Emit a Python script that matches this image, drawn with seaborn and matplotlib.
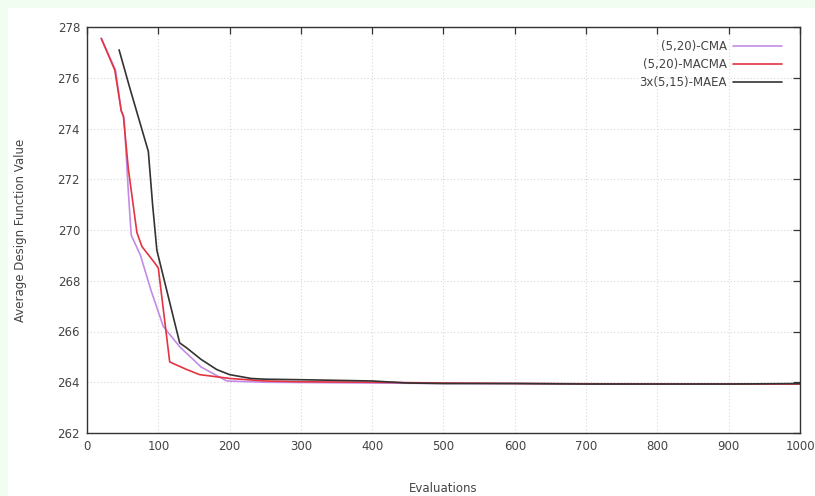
import numpy as np
import pandas as pd
import matplotlib
matplotlib.use("Agg")
import matplotlib.pyplot as plt
import seaborn as sns

# values
cma_x = [20, 40, 48, 52, 58, 62, 75, 90, 107, 130, 160, 196, 250, 300, 400, 500, 600, 700, 800, 900, 1000]
cma_y = [277.55, 276.3, 274.7, 274.4, 271.5, 269.8, 269.0, 267.6, 266.2, 265.4, 264.6, 264.05, 264.0,
         263.99, 263.97, 263.95, 263.95, 263.94, 263.94, 263.93, 263.93]

macma_x = [20, 39, 48, 51, 58, 70, 77, 95, 100, 116, 140, 158, 200, 250, 300, 400, 500, 600, 700, 800, 900, 1000]
macma_y = [277.55, 276.3, 274.7, 274.5, 272.4, 269.9, 269.35, 268.7, 268.5, 264.8, 264.5, 264.3, 264.15,
           264.05, 264.02, 264.0, 263.97, 263.95, 263.94, 263.93, 263.93, 263.93]

maea_x = [45, 60, 86, 92, 98, 130, 140, 160, 182, 200, 230, 250, 300, 400, 450, 500, 600, 700, 800, 900, 1000]
maea_y = [277.1, 275.6, 273.1, 271.0, 269.2, 265.55, 265.35, 264.9, 264.5, 264.3, 264.15, 264.12, 264.1,
          264.05, 263.97, 263.95, 263.95, 263.93, 263.93, 263.93, 263.95]

series_names = ["(5,20)-CMA", "(5,20)-MACMA", "3x(5,15)-MAEA"]
series_colors = ["#c48be6", "#e3343f", "#333333"]

x_ticks = [0, 100, 200, 300, 400, 500, 600, 700, 800, 900, 1000]
y_ticks = [262, 264, 266, 268, 270, 272, 274, 276, 278]

df = pd.concat([
    pd.DataFrame({"Evaluations": cma_x, "value": cma_y, "run": series_names[0]}),
    pd.DataFrame({"Evaluations": macma_x, "value": macma_y, "run": series_names[1]}),
    pd.DataFrame({"Evaluations": maea_x, "value": maea_y, "run": series_names[2]}),
])

sns.set_style("white")
plt.rcParams['font.family'] = ['DejaVu Sans']

fig = plt.figure(figsize=(8.15, 4.96), dpi=100, facecolor="white")
# light green frame strip along the top and left edge
fig.patches.append(plt.Rectangle((0, 0), 8 / 815, 1, transform=fig.transFigure,
                                 facecolor="#f0fdf0", edgecolor="none", zorder=-1))
fig.patches.append(plt.Rectangle((0, 1 - 8 / 496), 1, 8 / 496, transform=fig.transFigure,
                                 facecolor="#f0fdf0", edgecolor="none", zorder=-1))

ax = fig.add_axes([87 / 815, 1 - 433 / 496, (800 - 87) / 815, (433 - 27) / 496])

sns.lineplot(data=df, x="Evaluations", y="value", hue="run", hue_order=series_names,
             palette=series_colors, linewidth=1.2, ax=ax, sort=False, estimator=None)

ax.set_xlim(0, 1000)
ax.set_ylim(262, 278)
ax.set_xticks(x_ticks)
ax.set_yticks(y_ticks)
ax.grid(True, color="#d8d8d8", linestyle=(0, (1, 2)), linewidth=0.8)
ax.tick_params(direction="in", length=5, width=0.9, top=True, right=True,
               labelsize=8.5, labelcolor="#444444", color="#333333", pad=5)
for s in ax.spines.values():
    s.set_color("#333333")
    s.set_linewidth(1.0)

ax.set_xlabel("Evaluations", fontsize=8.5, color="#444444", labelpad=21)
ax.set_ylabel("Average Design Function Value", fontsize=8.5, color="#444444", labelpad=22)

leg = ax.legend(loc="upper right", bbox_to_anchor=(1, 1.011), frameon=False, markerfirst=False,
                fontsize=8.5, handlelength=4.2, labelspacing=0.42, borderaxespad=1.1,
                handletextpad=0.5)
for t in leg.get_texts():
    t.set_color("#444444")
    t.set_ha("right")

fig.savefig("out.png", dpi=100, facecolor=fig.get_facecolor())
